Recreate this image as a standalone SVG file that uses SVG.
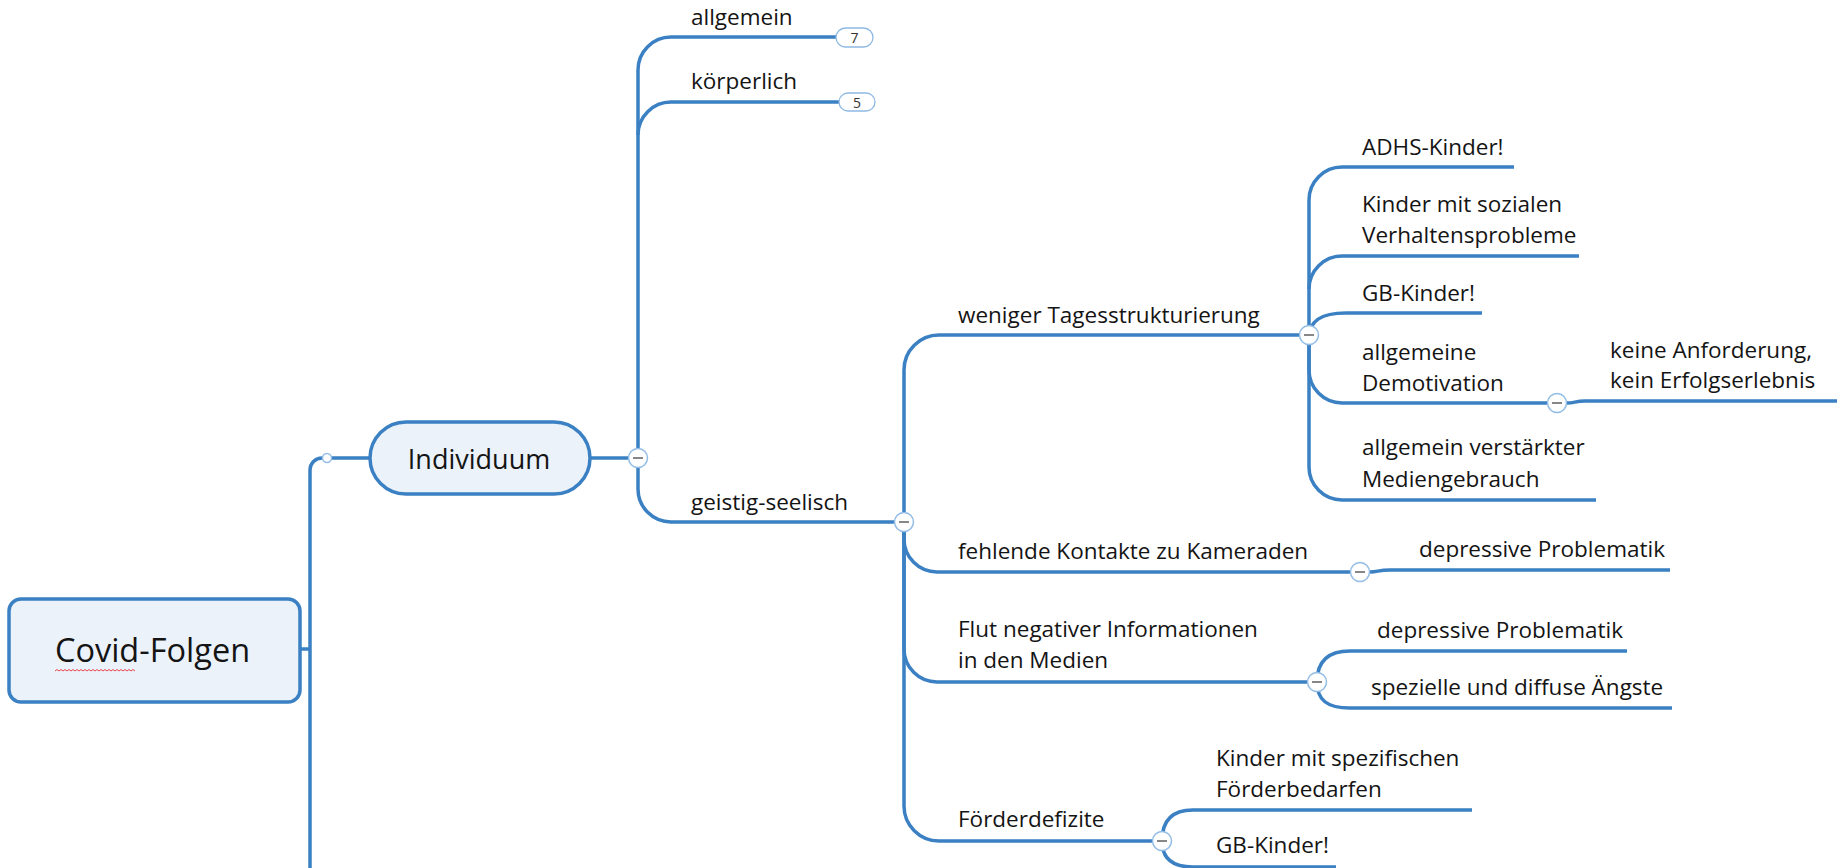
<svg xmlns="http://www.w3.org/2000/svg" width="1837" height="868" viewBox="0 0 1837 868">
<style>
.c{fill:none;stroke:#3A80C3;stroke-width:3.5;stroke-linecap:butt}
.t{font-family:"Open Sans","Noto Sans",sans-serif;font-size:22.5px;fill:#141414}
.box{fill:#EBF2FA;stroke:#3A80C3;stroke-width:3.5}
.tog{fill:#fff;stroke:#93BDE6;stroke-width:1.5}
.mn{stroke:#7a7a7a;stroke-width:1.8}
.pill{fill:#fff;stroke:#8DB9E4;stroke-width:1.3}
.num{font-family:"Open Sans","Noto Sans",sans-serif;font-size:14px;fill:#333;text-anchor:middle}
</style>
<defs>
<g id="minus"><circle r="9.5" class="tog"/><line x1="-5" y1="0" x2="5" y2="0" class="mn"/></g>
</defs>
<g id="connectors">
<path class="c" d="M300,649 H310"/>
<path class="c" d="M310,868 V470 A12,12 0 0 1 322,458 H370"/>
<path class="c" d="M590,458 H628"/>
<path class="c" d="M638,448 V70 A33,33 0 0 1 671,37 H836"/>
<path class="c" d="M638,135 A33,33 0 0 1 671,102 H839"/>
<path class="c" d="M638,468 V489 A33,33 0 0 0 671,522 H894"/>
<path class="c" d="M904,512 V370 A35,35 0 0 1 939,335 H1299"/>
<path class="c" d="M904,532 V539 A33,33 0 0 0 937,572 H1350"/>
<path class="c" d="M904,532 V649 A33,33 0 0 0 937,682 H1307"/>
<path class="c" d="M904,532 V806 A35,35 0 0 0 939,841 H1152"/>
<path class="c" d="M1370,572 C1378,572 1378,570 1390,570 H1670"/>
<path class="c" d="M1317,682 C1317,662 1327,651 1350,651 H1627"/>
<path class="c" d="M1317,682 C1317,700 1327,708 1350,708 H1672"/>
<path class="c" d="M1162,841 C1162,821 1172,810 1193,810 H1472"/>
<path class="c" d="M1162,841 C1162,858 1172,867 1193,867 H1336"/>
<path class="c" d="M1309,325 V200 A33,33 0 0 1 1342,167 H1514"/>
<path class="c" d="M1309,289 A33,33 0 0 1 1342,256 H1579"/>
<path class="c" d="M1309,338 C1309,320 1322,313 1346,313 H1482"/>
<path class="c" d="M1309,345 V370 A33,33 0 0 0 1342,403 H1547"/>
<path class="c" d="M1309,345 V467 A33,33 0 0 0 1342,500 H1596"/>
<path class="c" d="M1567,403 C1575,403 1575,401 1585,401 H1837"/>
</g>
<g id="toggles">
<circle cx="327" cy="458" r="4.5" class="tog" stroke="#7FAEDD"/>
<use href="#minus" x="638" y="458"/>
<use href="#minus" x="904" y="522"/>
<use href="#minus" x="1309" y="335"/>
<use href="#minus" x="1360" y="572"/>
<use href="#minus" x="1317" y="682"/>
<use href="#minus" x="1162" y="841"/>
<use href="#minus" x="1557" y="403"/>
</g>
<g id="covid">
<rect x="9" y="599" width="291" height="103" rx="12" class="box"/>
<text x="152.5" y="662" text-anchor="middle" style="font-family:'Open Sans','Noto Sans',sans-serif;font-size:32.5px;fill:#141414">Covid-Folgen</text>
<path d="M55,671 l2,-1.5 l2,1.5 l2,-1.5 l2,1.5 l2,-1.5 l2,1.5 l2,-1.5 l2,1.5 l2,-1.5 l2,1.5 l2,-1.5 l2,1.5 l2,-1.5 l2,1.5 l2,-1.5 l2,1.5 l2,-1.5 l2,1.5 l2,-1.5 l2,1.5 l2,-1.5 l2,1.5 l2,-1.5 l2,1.5 l2,-1.5 l2,1.5 l2,-1.5 l2,1.5 l2,-1.5 l2,1.5 l2,-1.5 l2,1.5 l2,-1.5 l2,1.5 l2,-1.5 l2,1.5 l2,-1.5 l2,1.5 l2,-1.5 l2,1.5" fill="none" stroke="#E8434B" stroke-width="1"/>
</g>
<g id="individuum">
<rect x="370" y="422" width="220" height="72" rx="36" class="box"/>
<text x="479" y="469" text-anchor="middle" style="font-family:'Open Sans','Noto Sans',sans-serif;font-size:27px;fill:#141414">Individuum</text>
</g>
<g id="allgemein">
<text class="t" x="691" y="25">allgemein</text>
<rect x="836" y="28" width="37" height="19" rx="9.5" class="pill"/>
<text class="num" x="854.5" y="43">7</text>
</g>
<g id="koerperlich">
<text class="t" x="691" y="89">körperlich</text>
<rect x="839" y="93" width="36" height="18" rx="9" class="pill"/>
<text class="num" x="857" y="107.5">5</text>
</g>
<g id="geistig"><text class="t" x="691" y="510">geistig-seelisch</text></g>
<g id="weniger"><text class="t" x="958" y="323">weniger Tagesstrukturierung</text></g>
<g id="fehlende"><text class="t" x="958" y="559">fehlende Kontakte zu Kameraden</text></g>
<g id="depr1"><text class="t" x="1419" y="557">depressive Problematik</text></g>
<g id="flut"><text class="t" x="958" y="637">Flut negativer Informationen</text><text class="t" x="958" y="668">in den Medien</text></g>
<g id="depr2"><text class="t" x="1377" y="638">depressive Problematik</text></g>
<g id="aengste"><text class="t" x="1371" y="695">spezielle und diffuse Ängste</text></g>
<g id="foerder"><text class="t" x="958" y="827">Förderdefizite</text></g>
<g id="spezif"><text class="t" x="1216" y="766">Kinder mit spezifischen</text><text class="t" x="1216" y="797">Förderbedarfen</text></g>
<g id="gb2"><text class="t" x="1216" y="853">GB-Kinder!</text></g>
<g id="adhs"><text class="t" x="1362" y="155">ADHS-Kinder!</text></g>
<g id="sozial"><text class="t" x="1362" y="212">Kinder mit sozialen</text><text class="t" x="1362" y="243">Verhaltensprobleme</text></g>
<g id="gb1"><text class="t" x="1362" y="301">GB-Kinder!</text></g>
<g id="demot"><text class="t" x="1362" y="360">allgemeine</text><text class="t" x="1362" y="391">Demotivation</text></g>
<g id="keine"><text class="t" x="1610" y="358">keine Anforderung,</text><text class="t" x="1610" y="388">kein Erfolgserlebnis</text></g>
<g id="medien"><text class="t" x="1362" y="455">allgemein verstärkter</text><text class="t" x="1362" y="487">Mediengebrauch</text></g>
</svg>
